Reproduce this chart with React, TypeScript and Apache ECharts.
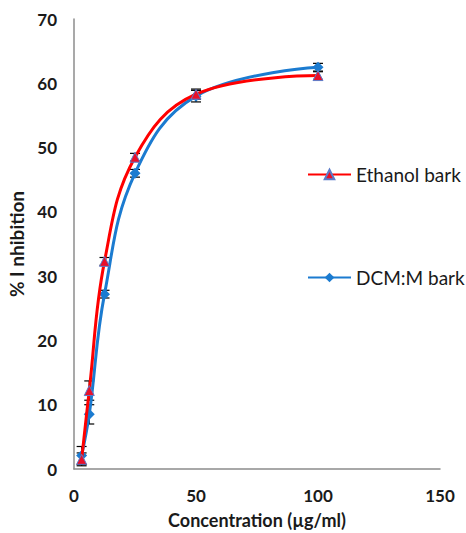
import React, { useEffect, useRef } from "react";
import * as echarts from "echarts";

const concentrations = [3.125, 6.25, 12.5, 25, 50, 100];
const ethanolValues = [1.5, 12.2, 32.3, 48.5, 58.3, 61.2];
const ethanolErrors = [1.0, 1.5, 0.6, 0.6, 0.8, 0.6];
const dcmValues = [2.1, 8.5, 27.2, 46.0, 58.0, 62.5];
const dcmErrors = [1.4, 1.5, 0.6, 0.6, 0.9, 0.6];
const xTicks = [0, 50, 100, 150];
const yTicks = [0, 10, 20, 30, 40, 50, 60, 70];

const errorSeries = (vals: number[], errs: number[], z: number) => ({
  type: "custom",
  z,
  silent: true,
  data: concentrations.map((c, i) => [c, vals[i] - errs[i], vals[i] + errs[i]]),
  renderItem: (params: any, api: any) => {
    const lo = api.coord([api.value(0), api.value(1)]);
    const hi = api.coord([api.value(0), api.value(2)]);
    const w = 5;
    const style = { stroke: "#000", lineWidth: 1.2 };
    return {
      type: "group",
      children: [
        { type: "line", shape: { x1: lo[0], y1: lo[1], x2: hi[0], y2: hi[1] }, style },
        { type: "line", shape: { x1: lo[0] - w, y1: lo[1], x2: lo[0] + w, y2: lo[1] }, style },
        { type: "line", shape: { x1: hi[0] - w, y1: hi[1], x2: hi[0] + w, y2: hi[1] }, style },
      ],
    };
  },
});

export default function App() {
  const ref = useRef<HTMLDivElement>(null);
  useEffect(() => {
    const chart = echarts.init(ref.current!, undefined, { renderer: "svg" });
    const labelFont = { fontFamily: "Lato", fontWeight: "bold", fontSize: 17, color: "#1a1a1a" };
    chart.setOption({
      animation: false,
      backgroundColor: "#fff",
      grid: { left: 74, right: 26, top: 19, bottom: 64, outerBoundsMode: "none", containLabel: false },
      legend: {
        orient: "vertical",
        left: 302,
        top: 160,
        itemGap: 84,
        itemWidth: 43,
        itemHeight: 12,
        textStyle: { fontFamily: "Lato", fontSize: 19, color: "#1a1a1a" },
        data: ["Ethanol bark", "DCM:M bark"],
      },
      xAxis: {
        type: "value",
        min: xTicks[0],
        max: xTicks[xTicks.length - 1],
        interval: 50,
        name: "Concentration (µg/ml)",
        nameLocation: "middle",
        nameGap: 42,
        nameTextStyle: { ...labelFont, fontSize: 18 },
        axisLine: { lineStyle: { color: "#8c8c8c", width: 1.5 } },
        axisTick: { show: false },
        splitLine: { show: false },
        axisLabel: { ...labelFont, margin: 18 },
      },
      yAxis: {
        type: "value",
        min: yTicks[0],
        max: yTicks[yTicks.length - 1],
        interval: 10,
        name: "% I nhibition",
        nameLocation: "middle",
        nameGap: 46,
        nameTextStyle: { ...labelFont, fontSize: 19 },
        axisLine: { show: true, lineStyle: { color: "#8c8c8c", width: 1.5 } },
        axisTick: { show: false },
        splitLine: { show: false },
        axisLabel: { ...labelFont, margin: 17 },
      },
      series: [
        errorSeries(dcmValues, dcmErrors, 1),
        errorSeries(ethanolValues, ethanolErrors, 1),
        {
          name: "DCM:M bark",
          type: "line",
          smooth: 0.4,
          z: 3,
          data: concentrations.map((c, i) => [c, dcmValues[i]]),
          lineStyle: { color: "#1b7bd0", width: 3 },
          itemStyle: { color: "#1b7bd0" },
          symbol: "diamond",
          symbolSize: 11,
        },
        {
          name: "Ethanol bark",
          type: "line",
          smooth: 0.4,
          z: 4,
          data: concentrations.map((c, i) => [c, ethanolValues[i]]),
          lineStyle: { color: "#ff0000", width: 3 },
          itemStyle: { color: "#e8102a", borderColor: "#5b7bc9", borderWidth: 1 },
          symbol: "triangle",
          symbolSize: 10,
        },
      ],
    });
    return () => chart.dispose();
  }, []);
  return (
    <div
      ref={ref}
      style={{ position: "absolute", left: 0, top: 0, width: 466, height: 533 }}
    />
  );
}
